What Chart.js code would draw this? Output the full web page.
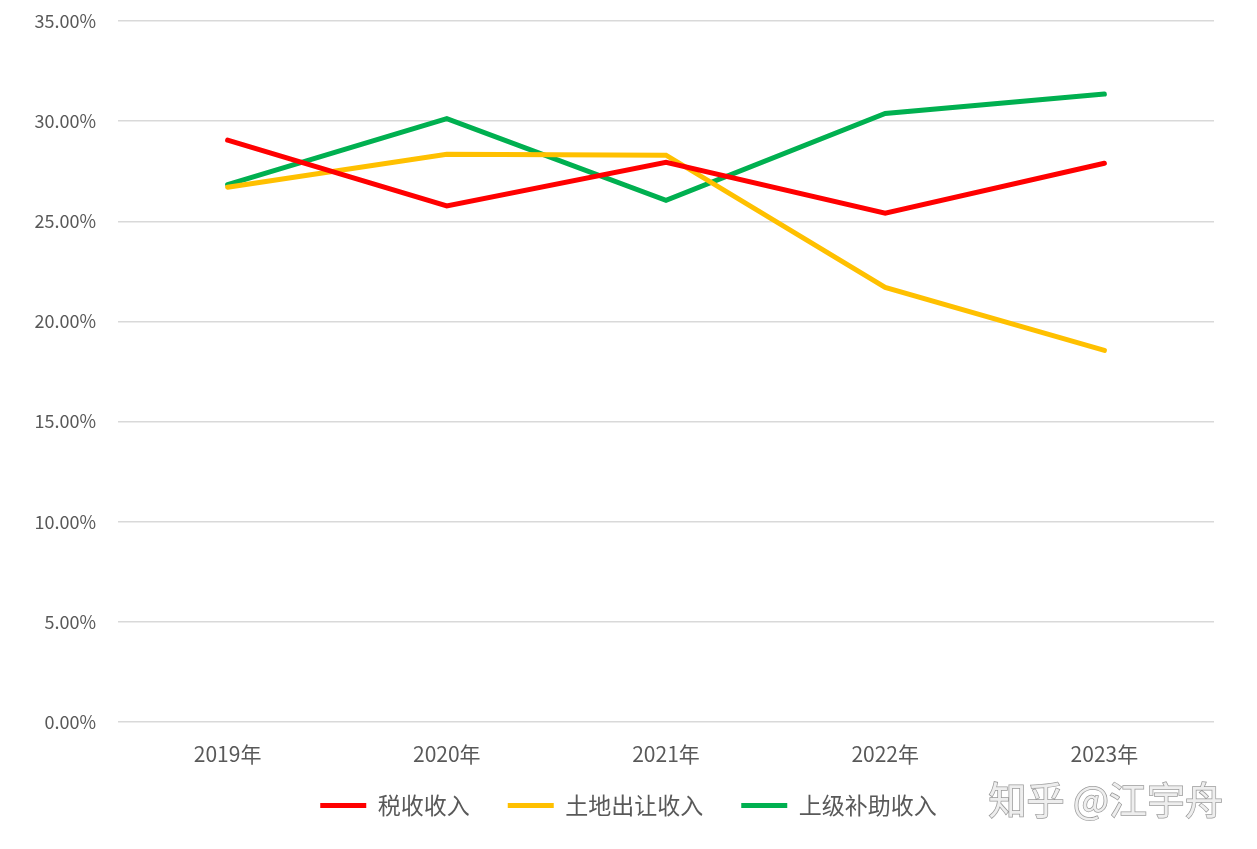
<!DOCTYPE html>
<html>
<head>
<meta charset="utf-8">
<script src="https://cdn.jsdelivr.net/npm/chart.js@4/dist/chart.umd.min.js"></script>
<style>
  html, body { margin: 0; padding: 0; background: #fff; }
  #wrap { width: 1257px; height: 849px; }
</style>
</head>
<body>
<div id="wrap"><canvas id="myChart" width="1257" height="849"></canvas></div>
<script>
// Data (percent)
const years = ['2019年', '2020年', '2021年', '2022年', '2023年'];
const taxIncome = [29.05, 25.77, 27.95, 25.4, 27.9];
const landIncome = [26.7, 28.35, 28.3, 21.7, 18.55];
const subsidyIncome = [26.83, 30.13, 26.05, 30.38, 31.35];
const seriesNames = ['税收收入', '土地出让收入', '上级补助收入'];
const seriesColors = ['#ff0000', '#ffc000', '#00b050'];

const fontFamily = '"Noto Sans CJK SC", "Noto Sans", sans-serif';
const textColor = '#595959';

// draws the site watermark in the bottom right corner
const watermark = {
    id: 'watermark',
    afterLayout(chart) {
        // the x labels overlap the legend box a little, don't let them get clipped
        chart.scales.x.bottom = chart.height;
    },
    afterDraw(chart) {
        const ctx = chart.ctx;
        ctx.save();
        ctx.font = '38px ' + fontFamily;
        ctx.textAlign = 'right';
        ctx.textBaseline = 'middle';
        ctx.lineWidth = 1.5;
        ctx.strokeStyle = '#9a9a9a';
        ctx.fillStyle = '#eeeeee';
        ctx.strokeText('知乎 @江宇舟', 1223, 800);
        ctx.fillText('知乎 @江宇舟', 1223, 800);
        ctx.restore();
    }
};

function makeDataset(i, values) {
    return {
        label: seriesNames[i],
        data: values,
        borderColor: seriesColors[i],
        backgroundColor: seriesColors[i],
        borderWidth: 5,
        borderCapStyle: 'round',
        borderJoinStyle: 'miter',
        pointRadius: 0,
        pointHoverRadius: 0,
        tension: 0,
        fill: false
    };
}

const ctx = document.getElementById('myChart').getContext('2d');
const myChart = new Chart(ctx, {
    type: 'line',
    data: {
        labels: years,
        datasets: [
            makeDataset(0, taxIncome),
            makeDataset(1, landIncome),
            makeDataset(2, subsidyIncome)
        ]
    },
    plugins: [watermark],
    options: {
        responsive: false,
        animation: false,
        layout: {
            padding: { left: 0, right: 0, top: 21, bottom: 22 }
        },
        plugins: {
            tooltip: { enabled: false },
            legend: {
                position: 'bottom',
                labels: {
                    usePointStyle: true,
                    pointStyle: 'line',
                    pointStyleWidth: 46,
                    boxWidth: 46,
                    boxHeight: 20,
                    padding: 38,
                    color: textColor,
                    font: { family: fontFamily, size: 23 }
                }
            }
        },
        scales: {
            x: {
                offset: true,
                grid: { display: false },
                border: { display: false },
                ticks: {
                    color: textColor,
                    padding: 11,
                    font: { family: fontFamily, size: 21 }
                },
                afterFit(scale) {
                    scale.height = 34;
                    scale.paddingRight = 43;
                }
            },
            y: {
                min: 0,
                max: 35,
                grid: { color: '#d9d9d9', lineWidth: 1.5, drawTicks: false },
                border: { display: false },
                ticks: {
                    stepSize: 5,
                    color: textColor,
                    padding: 22,
                    font: { family: fontFamily, size: 18 },
                    callback: v => v.toFixed(2) + '%'
                },
                afterFit(scale) {
                    scale.width = 118;
                    scale.paddingTop = 0;
                    scale.paddingBottom = 0;
                }
            }
        }
    }
});
</script>
</body>
</html>
